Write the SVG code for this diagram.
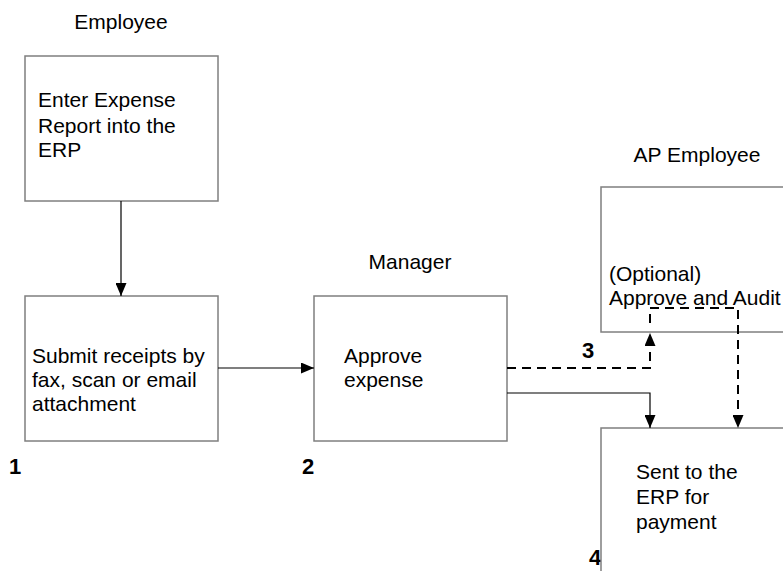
<svg xmlns="http://www.w3.org/2000/svg" width="783" height="571" viewBox="0 0 783 571">
  <style>
    .box { fill: #ffffff; stroke: #7f7f7f; stroke-width: 1.5; }
    .t { font-family: "Liberation Sans", Arial, sans-serif; font-size: 21px; fill: #000000; }
    .lane { text-anchor: middle; }
    .num { font-family: "Liberation Sans", Arial, sans-serif; font-size: 22px; font-weight: bold; fill: #000000; }
    .solid { fill: none; stroke: #000000; stroke-width: 1.2; }
    .dash { fill: none; stroke: #000000; stroke-width: 2; stroke-dasharray: 9 6; }
  </style>
  <defs>
    <marker id="arrow" viewBox="0 0 13 11" refX="13" refY="5.5" markerWidth="13" markerHeight="11" markerUnits="userSpaceOnUse" orient="auto">
      <path d="M0,0 L13,5.5 L0,11 Z" fill="#000000"/>
    </marker>
  </defs>
  <rect width="783" height="571" fill="#ffffff"/>

  <!-- lane headings -->
  <text class="t lane" x="121" y="29">Employee</text>
  <text class="t lane" x="410" y="269">Manager</text>
  <text class="t lane" x="697" y="162">AP Employee</text>

  <!-- step numbers -->
  <text class="num" x="9" y="474">1</text>
  <text class="num" x="302" y="474">2</text>
  <text class="num" x="582" y="358">3</text>
  <text class="num" x="589" y="565">4</text>

  <g id="enter-report">
    <rect class="box" x="25" y="56" width="193" height="145"/>
    <text class="t" x="38" y="107">Enter Expense</text>
    <text class="t" x="38" y="133">Report into the</text>
    <text class="t" x="38" y="157">ERP</text>
  </g>

  <g id="submit-receipts">
    <rect class="box" x="25" y="296" width="193" height="145"/>
    <text class="t" x="32" y="363">Submit receipts by</text>
    <text class="t" x="32" y="387">fax, scan or email</text>
    <text class="t" x="32" y="411">attachment</text>
  </g>

  <g id="approve-expense">
    <rect class="box" x="314" y="296" width="193" height="145"/>
    <text class="t" x="344" y="363">Approve</text>
    <text class="t" x="344" y="387">expense</text>
  </g>

  <g id="approve-audit">
    <rect class="box" x="601" y="187" width="200" height="145"/>
    <text class="t" x="609" y="281">(Optional)</text>
    <text class="t" x="609" y="305">Approve and Audit</text>
  </g>

  <g id="sent-to-erp">
    <rect class="box" x="601" y="428" width="200" height="160"/>
    <text class="t" x="636" y="479">Sent to the</text>
    <text class="t" x="636" y="504">ERP for</text>
    <text class="t" x="636" y="529">payment</text>
  </g>

  <g id="connectors">
    <line class="solid" x1="121" y1="201" x2="121" y2="296" marker-end="url(#arrow)"/>
    <line class="solid" x1="218" y1="368" x2="314" y2="368" marker-end="url(#arrow)"/>
    <polyline class="solid" points="507,393 650,393 650,428" marker-end="url(#arrow)"/>
    <polyline class="dash" points="507,368 650,368 650,333" marker-end="url(#arrow)"/>
    <polyline class="dash" points="650,323 650,308 738,308 738,428" marker-end="url(#arrow)"/>
  </g>
</svg>
